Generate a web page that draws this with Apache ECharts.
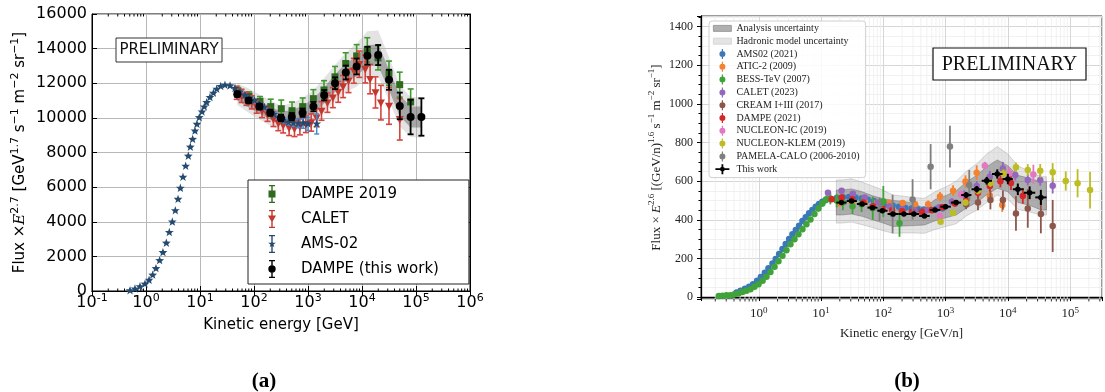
<!DOCTYPE html>
<html>
<head>
<meta charset="utf-8">
<title>Proton / helium flux</title>
<script src="https://cdn.jsdelivr.net/npm/echarts@6/dist/echarts.min.js"></script>
<style>
  html, body { margin: 0; padding: 0; background: #fff; }
  #chart { width: 1105px; height: 392px; }
</style>
</head>
<body>
<div id="chart"></div>
<script>
// ---------- (a) left panel : flux x E^2.7, kinetic energy in GeV ----------
const leftXTickExp = [-1, 0, 1, 2, 3, 4, 5, 6]
const leftYTicks = [0, 2000, 4000, 6000, 8000, 10000, 12000, 14000, 16000]

// AMS-02
const amsE = [0.506, 0.625, 0.774, 0.958, 1.14, 1.33, 1.53, 1.79, 2.06, 2.38, 2.70, 3.07, 3.49, 3.92, 4.33, 4.84, 5.43, 6.08, 6.62, 7.31, 8.07, 8.79, 9.70, 10.9, 12.0, 13.3, 15.3, 17.7, 20.4, 24.2, 29.0, 36.0, 44.5, 55, 68, 83, 102, 126, 155, 190, 234, 288, 355, 436, 537, 660, 813, 1000, 1450]
const amsV = [19, 116, 251, 400, 620, 920, 1295, 1757, 2220, 2766, 3383, 3983, 4640, 5296, 5934, 6572, 7210, 7790, 8312, 8758, 9240, 9628, 10015, 10343, 10633, 10885, 11175, 11426, 11658, 11813, 11890, 11850, 11700, 11500, 11300, 11150, 11000, 10800, 10600, 10400, 10200, 10000, 9850, 9750, 9700, 9680, 9700, 9650, 9650]
const amsErr = [10, 10, 10, 10, 10, 10, 10, 10, 10, 10, 10, 10, 10, 10, 10, 10, 10, 10, 10, 10, 10, 10, 10, 10, 10, 10, 10, 10, 10, 10, 10, 20, 30, 40, 50, 60, 70, 80, 90, 100, 110, 120, 140, 160, 190, 250, 300, 380, 580]

// CALET
const calE = [47.9, 58.9, 72.4, 91.2, 112, 141, 178, 229, 282, 347, 447, 562, 708, 912, 1148, 1445, 1778, 2291, 2884, 3631, 4467, 5623, 7079, 8913, 11482, 14125, 17783, 22387, 31623, 50119]
const calV = [11450, 11270, 11100, 10900, 10650, 10400, 10200, 9920, 9690, 9570, 9430, 9380, 9490, 9630, 9730, 10010, 10400, 10880, 11170, 11500, 11810, 12140, 12720, 13100, 12820, 12240, 11470, 10880, 10690, 9920]
const calErr = [380, 380, 380, 380, 380, 380, 400, 420, 430, 440, 450, 460, 470, 480, 500, 520, 540, 560, 580, 600, 640, 680, 720, 760, 800, 850, 900, 1000, 1060, 1200]

// DAMPE 2019
const d19E = [51, 81, 129, 204, 320, 506, 796, 1256, 1978, 3160, 4990, 7960, 12540, 19770, 31620, 49900, 79600]
const d19V = [11500, 11250, 10950, 10650, 10530, 10415, 10650, 11110, 11610, 12370, 13140, 13580, 13930, 13470, 12580, 11920, 10920]
const d19Err = [250, 250, 280, 430, 500, 500, 500, 520, 540, 600, 620, 650, 700, 700, 700, 720, 750]

// DAMPE (this work) + uncertainty bands
const dwE = [49, 79.4, 126, 200, 316, 501, 794, 1259, 1995, 3162, 5012, 7943, 12589, 19953, 31623, 50119, 79433, 125893]
const dwV = [11370, 11000, 10650, 10300, 10000, 10070, 10300, 10650, 11310, 12000, 12620, 12970, 13590, 13630, 12200, 10690, 10050, 10050]
const dwErr = [150, 150, 160, 170, 190, 210, 240, 270, 300, 340, 400, 460, 520, 580, 580, 770, 1000, 1080]
const dwSysLo = [11000, 10600, 10250, 9900, 9650, 9700, 9900, 10250, 10850, 11500, 12100, 12400, 13000, 13000, 11600, 10100, 9450, 9450]
const dwSysHi = [11700, 11350, 11000, 10650, 10350, 10450, 10700, 11100, 11750, 12500, 13150, 13550, 14200, 14250, 12800, 11300, 10650, 10650]
const dwHadLo = [10750, 10300, 9900, 9550, 9300, 9300, 9500, 9800, 10350, 10950, 11500, 11800, 12400, 12400, 11000, 9500, 8900, 8850]
const dwHadHi = [12000, 11700, 11350, 11000, 10700, 10850, 11150, 11600, 12300, 13050, 13750, 14300, 15000, 15050, 13500, 11900, 11200, 11200]

// ---------- (b) right panel : flux x E^2.6, kinetic energy in GeV/n ----------
const rightXTickExp = [0, 1, 2, 3, 4, 5]
const rightYTicks = [0, 200, 400, 600, 800, 1000, 1200, 1400]

const ams21E = [0.44, 0.51, 0.60, 0.70, 0.81, 0.94, 1.08, 1.25, 1.43, 1.66, 1.87, 2.12, 2.40, 2.71, 3.07, 3.47, 3.93, 4.44, 5.02, 5.68, 6.42, 7.26, 8.22, 9.29, 10.5, 11.9, 14.1, 17.8, 22.4, 28.2, 35.5, 44.7, 56.2, 70.8, 89.1, 112, 141, 178, 224, 282, 355, 447, 562, 708, 891]
const ams21V = [24, 33, 43, 53, 67, 84, 104, 126, 149, 174, 197, 223, 249, 275, 300, 325, 347, 369, 394, 413, 434, 451, 468, 482, 494, 502, 508, 513, 517, 518, 515, 510, 504, 497, 489, 481, 474, 467, 462, 458, 455, 453, 453, 456, 460]
const ams21Err = [0, 0, 0, 0, 0, 0, 0, 0, 0, 0, 0, 0, 0, 0, 0, 0, 0, 0, 0, 0, 0, 0, 0, 0, 0, 0, 3, 3, 3, 3, 3, 3, 3, 4, 4, 4, 5, 5, 6, 7, 8, 9, 11, 13, 16]

const aticE = [20, 31.6, 50.1, 79.4, 126, 204, 324, 525, 813, 1318, 2089, 3162, 5129, 8128]
const aticV = [485, 490, 495, 490, 488, 487, 480, 480, 520, 551, 598, 644, 525, 476]
const aticErr = [10, 10, 12, 12, 14, 15, 17, 20, 24, 28, 32, 38, 30, 35]

const bessE = [0.228, 0.261, 0.303, 0.351, 0.407, 0.472, 0.547, 0.634, 0.735, 0.853, 0.989, 1.15, 1.33, 1.54, 1.79, 2.07, 2.40, 2.78, 3.22, 3.74, 4.33, 5.02, 5.82, 6.75, 7.83, 9.08, 10.5, 12.2, 14.1, 17.8, 22.4, 32.0, 44.7, 67.6, 100, 182]
const bessV = [5, 7, 9, 10, 14, 19, 26, 33, 41, 53, 67, 85, 105, 130, 157, 185, 214, 243, 273, 299, 325, 351, 377, 402, 430, 459, 485, 506, 510, 500, 490, 470, 480, 460, 495, 382]
const bessErr = [0, 0, 0, 0, 0, 0, 0, 0, 0, 0, 0, 0, 0, 0, 0, 0, 0, 0, 2, 4, 6, 8, 10, 12, 14, 16, 18, 20, 30, 35, 40, 40, 40, 60, 80, 70]

const calet23E = [12.9, 21.4, 32.4, 50.1, 81.3, 126, 200, 316, 501, 794, 1259, 1995, 3162, 5129, 8318, 13183, 20893, 33113, 52481]
const calet23V = [540, 550, 535, 515, 490, 470, 455, 450, 450, 465, 494, 530, 575, 623, 665, 632, 606, 606, 576]
const calet23Err = [8, 8, 8, 9, 10, 10, 11, 12, 14, 16, 18, 22, 26, 30, 35, 28, 28, 30, 40]

const creamE = [2138, 3311, 5248, 8318, 13490, 20893, 33884, 52481]
const creamV = [480, 489, 502, 502, 433, 459, 430, 368]
const creamErr = [25, 39, 48, 50, 90, 100, 100, 135]

const dampe21E = [14.8, 21.4, 31.6, 47.9, 67.6, 97.7, 138, 200, 288, 417, 603, 891, 1413, 2138, 3311, 5129, 7586, 11220, 17378]
const dampe21V = [506, 516, 506, 490, 470, 456, 450, 445, 440, 442, 450, 465, 485, 500, 540, 575, 600, 590, 523]
const dampe21Err = [6, 6, 6, 7, 7, 8, 8, 9, 10, 11, 12, 14, 17, 20, 24, 28, 32, 36, 40]

const nucIcE = [813, 1778, 4266, 10471, 25704]
const nucIcV = [420, 530, 680, 641, 635]
const nucIcErr = [15, 20, 20, 30, 50]

const nucKlemE = [832, 1318, 2089, 3311, 5248, 8511, 13490, 20893, 33113, 52481, 85114, 131826, 208930]
const nucKlemV = [390, 437, 490, 550, 590, 640, 672, 658, 654, 646, 601, 589, 554]
const nucKlemErr = [12, 14, 16, 18, 20, 22, 25, 30, 35, 47, 50, 73, 95]

const pamelaE = [87, 141, 295, 575, 1175, 2399]
const pamelaV = [455, 430, 505, 675, 779, 580]
const pamelaErr = [60, 100, 105, 117, 108, 78]

const thisE = [21.2, 30.9, 45.7, 66.8, 96.6, 143, 214, 309, 457, 676, 1000, 1479, 2138, 3162, 4571, 6761, 10000, 14454, 22387, 33884]
const thisV = [489, 497, 482, 463, 447, 430, 430, 430, 420, 451, 468, 489, 528, 558, 602, 637, 611, 558, 540, 516]
const thisErr = [6, 6, 6, 6, 7, 7, 8, 8, 9, 10, 11, 13, 15, 17, 20, 24, 27, 30, 33, 39]
const thisEdges = [17.6, 25.7, 37.6, 55.6, 80.4, 117, 176, 257, 376, 556, 822, 1216, 1778, 2600, 3802, 5559, 8222, 12023, 17989, 27542, 41687]

const bandE = [17.6, 21.2, 30.9, 45.7, 66.8, 96.6, 143, 214, 309, 457, 676, 1000, 1479, 2138, 3162, 4571, 6761, 10000, 14454, 22387, 33884, 41687]
const anaLo = [425, 425, 430, 418, 400, 385, 365, 368, 370, 373, 395, 410, 425, 460, 490, 530, 563, 545, 490, 475, 451, 451]
const anaHi = [554, 554, 560, 545, 525, 510, 500, 495, 485, 459, 505, 525, 550, 595, 630, 675, 710, 680, 630, 615, 597, 597]
const hadLo = [383, 383, 388, 375, 360, 345, 330, 332, 332, 330, 350, 365, 380, 420, 450, 490, 528, 505, 455, 440, 425, 425]
const hadHi = [606, 606, 612, 595, 575, 555, 528, 522, 515, 511, 545, 570, 600, 650, 690, 740, 779, 740, 680, 650, 623, 623]

const sansFont = 'DejaVu Sans'
const serifFont = 'Liberation Serif'

function logLabel(exps) {
  return function (v) {
    const l = Math.log10(v)
    const e = Math.round(l)
    if (Math.abs(l - e) > 1e-6 || exps.indexOf(e) < 0) return ''
    return '10{s|' + e + '}'
  }
}

function marker(kind, x, y, s, color) {
  if (kind === 'square') {
    return { type: 'rect', shape: { x: x - s / 2, y: y - s / 2, width: s, height: s }, style: { fill: color } }
  }
  if (kind === 'tri') {
    return { type: 'polygon', shape: { points: [[x - s / 2, y - s * 0.4], [x + s / 2, y - s * 0.4], [x, y + s * 0.55]] }, style: { fill: color } }
  }
  if (kind === 'star') {
    const pts = []
    for (let k = 0; k < 10; k++) {
      const r = k % 2 ? s * 0.22 : s * 0.55
      const a = -Math.PI / 2 + k * Math.PI / 5
      pts.push([x + r * Math.cos(a), y + r * Math.sin(a)])
    }
    return { type: 'polygon', shape: { points: pts }, style: { fill: color } }
  }
  return { type: 'circle', shape: { cx: x, cy: y, r: s / 2 }, style: { fill: color } }
}

// points with error bars, drawn through the axes of panel `ax`
function errSeries(name, ax, E, V, err, o) {
  return {
    name: name,
    type: 'custom',
    xAxisIndex: ax === 0 ? 0 : 2,
    yAxisIndex: ax === 0 ? 0 : 2,
    z: o.z || 4,
    itemStyle: { color: o.color },
    encode: { x: 0, y: 1 },
    data: E.map((e, i) => [e, V[i], V[i] - err[i], V[i] + err[i],
      o.xlo ? o.xlo[i] : e, o.xhi ? o.xhi[i] : e]),
    renderItem: function (params, api) {
      const p = api.coord([api.value(0), api.value(1)])
      const lo = api.coord([api.value(0), api.value(2)])[1]
      const hi = api.coord([api.value(0), api.value(3)])[1]
      const st = { stroke: o.bar || o.color, lineWidth: o.lw }
      const kids = [{ type: 'line', shape: { x1: p[0], y1: lo, x2: p[0], y2: hi }, style: st }]
      if (o.cap) {
        kids.push({ type: 'line', shape: { x1: p[0] - o.cap, y1: lo, x2: p[0] + o.cap, y2: lo }, style: st })
        kids.push({ type: 'line', shape: { x1: p[0] - o.cap, y1: hi, x2: p[0] + o.cap, y2: hi }, style: st })
      }
      if (o.xlo) {
        const l = api.coord([api.value(4), api.value(1)])[0]
        const r = api.coord([api.value(5), api.value(1)])[0]
        kids.push({ type: 'line', shape: { x1: l, y1: p[1], x2: r, y2: p[1] }, style: st })
      }
      kids.push(marker(o.symbol, p[0], p[1], o.size, o.color))
      return { type: 'group', children: kids }
    }
  }
}

// filled band between lo and hi
function bandSeries(name, ax, E, lo, hi, fill, stroke, z) {
  return {
    name: name,
    type: 'custom',
    xAxisIndex: ax === 0 ? 0 : 2,
    yAxisIndex: ax === 0 ? 0 : 2,
    z: z,
    silent: true,
    itemStyle: { color: fill, borderColor: stroke || fill, borderWidth: stroke ? 1 : 0 },
    encode: { x: 0, y: 1 },
    data: E.map((e, i) => [e, lo[i], hi[i]]),
    renderItem: function (params, api) {
      if (params.dataIndex !== 0) return null
      const pts = []
      for (let i = 0; i < E.length; i++) pts.push(api.coord([E[i], hi[i]]))
      for (let i = E.length - 1; i >= 0; i--) pts.push(api.coord([E[i], lo[i]]))
      return { type: 'polygon', shape: { points: pts }, style: { fill: fill, stroke: stroke || null, lineWidth: stroke ? 0.8 : 0 } }
    }
  }
}

// minor ticks (and grid lines) on the log axes
const leftMinor = []
for (let k = -1; k < 6; k++) for (let m = 2; m < 10; m++) leftMinor.push(m * Math.pow(10, k))
const rightMinor = []
for (let k = -1; k < 6; k++) for (let m = 2; m < 10; m++) {
  const v = m * Math.pow(10, k)
  if (v > 0.118 && v < 3.25e5) rightMinor.push(v)
}

const leftMinorSeries = {
  type: 'custom', xAxisIndex: 0, yAxisIndex: 0, silent: true, z: 6,
  encode: { x: 0, y: 1 },
  data: leftMinor.map(v => [v, 0]),
  renderItem: function (params, api) {
    const b = api.coord([api.value(0), 0])
    const t = api.coord([api.value(0), 16000])
    const st = { stroke: '#000', lineWidth: 1 }
    return { type: 'group', children: [
      { type: 'line', shape: { x1: b[0], y1: b[1], x2: b[0], y2: b[1] - 2.5 }, style: st },
      { type: 'line', shape: { x1: t[0], y1: t[1], x2: t[0], y2: t[1] + 2.5 }, style: st }
    ] }
  }
}

const rightMinorSeries = {
  type: 'custom', xAxisIndex: 2, yAxisIndex: 2, silent: true, z: 1,
  encode: { x: 0, y: 1 },
  data: rightMinor.map(v => [v, 0]),
  renderItem: function (params, api) {
    const b = api.coord([api.value(0), -10])
    const t = api.coord([api.value(0), 1455])
    return { type: 'group', children: [
      { type: 'line', shape: { x1: b[0], y1: b[1], x2: b[0], y2: t[1] }, style: { stroke: '#eeeeee', lineWidth: 0.8 } },
      { type: 'line', shape: { x1: b[0], y1: b[1], x2: b[0], y2: b[1] + 2.5 }, style: { stroke: '#000', lineWidth: 0.8 } }
    ] }
  }
}

// legend icons
const iconSquare = 'path://M1,0H7V1.2H4.7V5.5H7.5V12.5H4.7V16.8H7V18H1V16.8H3.3V12.5H0.5V5.5H3.3V1.2H1Z'
const iconTri = 'path://M1,0H7V1.2H1Z M3.3,0H4.7V18H3.3Z M1,16.8H7V18H1Z M0,5.5H8L4,12.5Z'
const iconStar = 'path://M1,0H7V1.2H1Z M3.3,0H4.7V18H3.3Z M1,16.8H7V18H1Z M4,5L4.94,7.71L7.8,7.76L5.52,9.49L6.35,12.24L4,10.6L1.65,12.24L2.48,9.49L0.2,7.76L3.06,7.71Z'
const iconCircle = 'path://M1,0H7V1.2H1Z M3.3,0H4.7V18H3.3Z M1,16.8H7V18H1Z M0.3,9A3.7,3.7 0 1 1 7.7,9A3.7,3.7 0 1 1 0.3,9Z'
const iconDot = 'path://M2.4,0H3.6V10H2.4Z M0,5A3,3 0 1 1 6,5A3,3 0 1 1 0,5Z'
const iconCross = 'path://M0,4.1H14V5.9H0Z M6.1,0H7.9V10H6.1Z M4.6,5A2.4,2.4 0 1 1 9.4,5A2.4,2.4 0 1 1 4.6,5Z'
const iconPatch = 'path://M0,0H18V6H0Z'

const supL = { fontSize: 11, verticalAlign: 'top', lineHeight: 9 }
const supR = { fontSize: 9, verticalAlign: 'top', lineHeight: 8 }

const chart = echarts.init(document.getElementById('chart'))

const option = {
  animation: false,
  backgroundColor: '#fff',
  grid: [
    { left: 92, top: 14, width: 378, height: 277, show: true, borderColor: '#000', borderWidth: 1 },
    { left: 701, top: 16, width: 403, height: 283, show: true, borderColor: '#333', borderWidth: 1 }
  ],
  xAxis: [
    {
      gridIndex: 0, type: 'log', logBase: 10, min: 0.1, max: 1e6,
      name: 'Kinetic energy [GeV]', nameLocation: 'middle', nameGap: 27,
      nameTextStyle: { fontFamily: sansFont, fontSize: 15, color: '#000' },
      axisLine: { lineStyle: { color: '#000', width: 1 } },
      axisTick: { inside: true, length: 5, lineStyle: { color: '#000' } },
      axisLabel: {
        formatter: logLabel(leftXTickExp), margin: 2, fontFamily: sansFont, fontSize: 16,
        color: '#000', lineHeight: 20, rich: { s: supL }
      },
      splitLine: { show: true, lineStyle: { color: '#b8b8b8', width: 1 } }
    },
    {
      gridIndex: 0, type: 'log', logBase: 10, min: 0.1, max: 1e6, position: 'top',
      axisLine: { lineStyle: { color: '#000', width: 1 } },
      axisTick: { inside: true, length: 5, lineStyle: { color: '#000' } },
      axisLabel: { show: false }, splitLine: { show: false }
    },
    {
      gridIndex: 1, type: 'log', logBase: 10, min: 0.118, max: 3.25e5,
      name: 'Kinetic energy [GeV/n]', nameLocation: 'middle', nameGap: 19,
      nameTextStyle: { fontFamily: serifFont, fontSize: 13, color: '#222' },
      axisLine: { lineStyle: { color: '#000', width: 1.3 } },
      axisTick: { length: 4, lineStyle: { color: '#000' } },
      axisLabel: {
        formatter: logLabel(rightXTickExp), margin: 7, fontFamily: serifFont, fontSize: 13,
        color: '#222', lineHeight: 16, rich: { s: supR }
      },
      splitLine: { show: true, lineStyle: { color: '#d6d6d6', width: 1 } }
    }
  ],
  yAxis: [
    {
      gridIndex: 0, type: 'value', min: 0, max: 16000, interval: 2000,
      name: 'Flux ×{i|E}{s|2.7} [GeV{s|1.7} s{s|−1} m{s|−2} sr{s|−1}]',
      nameLocation: 'middle', nameRotate: 90, nameGap: 62,
      nameTextStyle: {
        fontFamily: sansFont, fontSize: 15, color: '#000', lineHeight: 20,
        rich: { s: supL, i: { fontStyle: 'italic', fontFamily: 'DejaVu Serif', fontSize: 15, lineHeight: 20 } }
      },
      axisLine: { show: true, lineStyle: { color: '#000', width: 1 } },
      axisTick: { show: true, inside: true, length: 5, lineStyle: { color: '#000' } },
      axisLabel: {
        formatter: v => (leftYTicks.indexOf(v) >= 0 ? String(v) : ''),
        margin: 5, fontFamily: sansFont, fontSize: 16, color: '#000'
      },
      splitLine: { show: true, lineStyle: { color: '#b8b8b8', width: 1 } }
    },
    {
      gridIndex: 0, type: 'value', min: 0, max: 16000, interval: 2000, position: 'right',
      axisLine: { show: true, lineStyle: { color: '#000', width: 1 } },
      axisTick: { show: true, inside: true, length: 5, lineStyle: { color: '#000' } },
      axisLabel: { show: false }, splitLine: { show: false }
    },
    {
      gridIndex: 1, type: 'value', min: -10, max: 1455, splitNumber: 7,
      name: 'Flux × {i|E}{s|2.6} [(GeV/n){s|1.6} s{s|−1} m{s|−2} sr{s|−1}]',
      nameLocation: 'middle', nameRotate: 90, nameGap: 34,
      nameTextStyle: {
        fontFamily: serifFont, fontSize: 13, color: '#222', lineHeight: 18,
        rich: { s: supR, i: { fontStyle: 'italic', fontFamily: serifFont, fontSize: 13, lineHeight: 18 } }
      },
      axisLine: { show: true, lineStyle: { color: '#000', width: 1.3 } },
      axisTick: { show: true, length: 4, lineStyle: { color: '#000' } },
      minorTick: { show: true, splitNumber: 4, length: 2.5, lineStyle: { color: '#000' } },
      minorSplitLine: { show: true, lineStyle: { color: '#eeeeee', width: 0.8 } },
      axisLabel: {
        formatter: v => (rightYTicks.indexOf(v) >= 0 ? String(v) : ''),
        margin: 8, fontFamily: serifFont, fontSize: 12, color: '#222'
      },
      splitLine: { show: true, lineStyle: { color: '#d6d6d6', width: 1 } }
    }
  ],
  legend: [
    {
      left: 248, top: 180, orient: 'vertical', z: 20,
      itemWidth: 8, itemHeight: 18, itemGap: 7,
      padding: [5, 30, 6, 20],
      borderColor: '#222', borderWidth: 1, backgroundColor: '#fff',
      textStyle: { fontFamily: sansFont, fontSize: 15, color: '#000', padding: [0, 0, 0, 20] },
      data: [
        { name: 'DAMPE 2019', icon: iconSquare },
        { name: 'CALET', icon: iconTri },
        { name: 'AMS-02', icon: iconStar },
        { name: 'DAMPE (this work)', icon: iconCircle }
      ]
    },
    {
      left: 709, top: 21, orient: 'vertical', z: 20,
      itemWidth: 18, itemHeight: 10, itemGap: 0,
      padding: [1, 6, 2, 4],
      borderColor: '#d0d0d0', borderWidth: 1, borderRadius: 3,
      backgroundColor: 'rgba(255,255,255,0.85)',
      textStyle: { fontFamily: serifFont, fontSize: 10, color: '#222', lineHeight: 12.8 },
      data: [
        { name: 'Analysis uncertainty', icon: iconPatch, itemStyle: { color: '#b0b0b0', borderColor: '#909090', borderWidth: 0.8 } },
        { name: 'Hadronic model uncertainty', icon: iconPatch, itemStyle: { color: '#e4e4e4', borderColor: '#d0d0d0', borderWidth: 0.8 } },
        { name: 'AMS02 (2021)', icon: iconDot },
        { name: 'ATIC-2 (2009)', icon: iconDot },
        { name: 'BESS-TeV (2007)', icon: iconDot },
        { name: 'CALET (2023)', icon: iconDot },
        { name: 'CREAM I+III (2017)', icon: iconDot },
        { name: 'DAMPE (2021)', icon: iconDot },
        { name: 'NUCLEON-IC (2019)', icon: iconDot },
        { name: 'NUCLEON-KLEM (2019)', icon: iconDot },
        { name: 'PAMELA-CALO (2006-2010)', icon: iconDot },
        { name: 'This work', icon: iconCross }
      ]
    }
  ],
  graphic: [
    { type: 'rect', z: 100, shape: { x: 116, y: 38, width: 106, height: 24 }, style: { fill: '#fff', stroke: '#333', lineWidth: 1 } },
    { type: 'text', z: 101, style: { text: 'PRELIMINARY', x: 169, y: 50.5, fontFamily: sansFont, fontSize: 15, fill: '#111', align: 'center', verticalAlign: 'middle' } },
    { type: 'rect', z: 100, shape: { x: 933, y: 48, width: 153, height: 32 }, style: { fill: '#fff', stroke: '#111', lineWidth: 1.2 } },
    { type: 'text', z: 101, style: { text: 'PRELIMINARY', x: 1009.5, y: 64.5, fontFamily: serifFont, fontSize: 20, fill: '#111', align: 'center', verticalAlign: 'middle' } },
    { type: 'text', z: 100, style: { text: '(a)', x: 264, y: 382, fontFamily: serifFont, fontWeight: 'bold', fontSize: 21, fill: '#000', align: 'center', verticalAlign: 'middle' } },
    { type: 'text', z: 100, style: { text: '(b)', x: 907, y: 382, fontFamily: serifFont, fontWeight: 'bold', fontSize: 21, fill: '#000', align: 'center', verticalAlign: 'middle' } }
  ],
  series: [
    leftMinorSeries,
    rightMinorSeries,
    // (a)
    bandSeries('had-a', 0, dwE, dwHadLo, dwHadHi, 'rgba(175,175,175,0.35)', null, 2),
    bandSeries('sys-a', 0, dwE, dwSysLo, dwSysHi, 'rgba(90,90,90,0.45)', null, 3),
    errSeries('DAMPE 2019', 0, d19E, d19V, d19Err, { color: '#2f6b1f', bar: '#3f9a2c', symbol: 'square', size: 7, cap: 3, lw: 1.6, z: 4 }),
    errSeries('CALET', 0, calE, calV, calErr, { color: '#c4372f', bar: '#d6453d', symbol: 'tri', size: 8, cap: 3, lw: 1.6, z: 5 }),
    errSeries('AMS-02', 0, amsE, amsV, amsErr, { color: '#264a6e', bar: '#3d8bd0', symbol: 'star', size: 8.5, cap: 2.5, lw: 1.4, z: 6 }),
    errSeries('DAMPE (this work)', 0, dwE, dwV, dwErr, { color: '#000', symbol: 'circle', size: 8, cap: 3, lw: 1.8, z: 7 }),
    // (b)
    bandSeries('Hadronic model uncertainty', 1, bandE, hadLo, hadHi, 'rgba(170,170,170,0.3)', 'rgba(150,150,150,0.45)', 2),
    bandSeries('Analysis uncertainty', 1, bandE, anaLo, anaHi, 'rgba(95,95,95,0.42)', 'rgba(90,90,90,0.5)', 3),
    errSeries('AMS02 (2021)', 1, ams21E, ams21V, ams21Err, { color: '#3a78b8', symbol: 'circle', size: 6.5, lw: 1.8, z: 4 }),
    errSeries('ATIC-2 (2009)', 1, aticE, aticV, aticErr, { color: '#f58231', symbol: 'circle', size: 6.5, lw: 1.8, z: 5 }),
    errSeries('BESS-TeV (2007)', 1, bessE, bessV, bessErr, { color: '#3fa33a', symbol: 'circle', size: 6.5, lw: 1.8, z: 5 }),
    errSeries('CALET (2023)', 1, calet23E, calet23V, calet23Err, { color: '#9467bd', symbol: 'circle', size: 6.5, lw: 1.8, z: 5 }),
    errSeries('CREAM I+III (2017)', 1, creamE, creamV, creamErr, { color: '#8c564b', symbol: 'circle', size: 6.5, lw: 1.8, z: 5 }),
    errSeries('DAMPE (2021)', 1, dampe21E, dampe21V, dampe21Err, { color: '#d62728', symbol: 'circle', size: 6.5, lw: 1.8, z: 5 }),
    errSeries('NUCLEON-IC (2019)', 1, nucIcE, nucIcV, nucIcErr, { color: '#e377c2', symbol: 'circle', size: 6.5, lw: 1.8, z: 5 }),
    errSeries('NUCLEON-KLEM (2019)', 1, nucKlemE, nucKlemV, nucKlemErr, { color: '#bcbd22', symbol: 'circle', size: 6.5, lw: 1.8, z: 5 }),
    errSeries('PAMELA-CALO (2006-2010)', 1, pamelaE, pamelaV, pamelaErr, { color: '#7f7f7f', symbol: 'circle', size: 6.5, lw: 1.8, z: 5 }),
    errSeries('This work', 1, thisE, thisV, thisErr, {
      color: '#000', symbol: 'circle', size: 5.5, lw: 2, z: 8,
      xlo: thisEdges.slice(0, -1), xhi: thisEdges.slice(1)
    })
  ]
}

chart.setOption(option)
window.onresize = chart.resize
</script>
</body>
</html>
